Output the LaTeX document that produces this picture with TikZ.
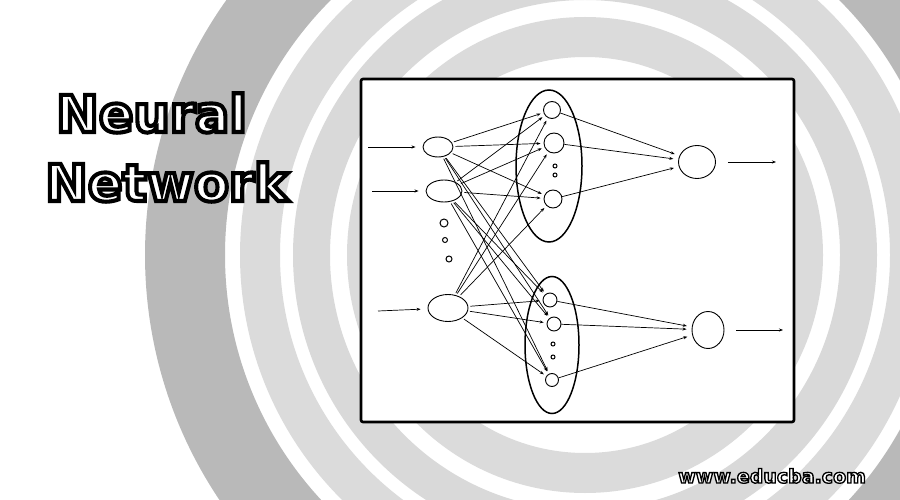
\documentclass[tikz,border=0pt]{standalone}
\usepackage{fontspec}
\newfontfamily\headfont[FakeBold=8]{DejaVu Sans}
\newfontfamily\sitefont[FakeBold=7]{DejaVu Sans}
\usetikzlibrary{shapes.geometric,arrows.meta}
\tikzstyle{neuron}=[draw=black,line width=0.9pt,ellipse,inner sep=0pt]
\tikzstyle{layer}=[draw=black,line width=1.5pt,ellipse,inner sep=0pt]
\tikzstyle{dot}=[draw=black,line width=1pt,circle,inner sep=0pt,minimum size=5pt]
\tikzstyle{link}=[line width=0.7pt,-{Stealth[length=4pt,width=3pt]}]
\tikzstyle{band}=[even odd rule,draw=none]
\tikzstyle{rim}=[anchor=base west,inner sep=0pt,text=white]

% white fill, black stroke for the emboldened fonts
\newcommand\blackrim{\special{pdf:code 0 G}}

\begin{document}
\begin{tikzpicture}[x=1pt,y=-1pt]
  \useasboundingbox (0,0) rectangle (900,500);
  % background rings
  \begin{scope}
    \clip (0,0) rectangle (900,500);
    \fill[band,gray!28] (585,255) circle (238pt) circle (198pt);
    \fill[band,gray!30] (585,255) circle (292pt) circle (255pt);
    \fill[band,gray!28] (585,255) circle (345pt) circle (305pt);
    \fill[band,gray!55] (585,255) circle (440pt) circle (360pt);
  \end{scope}

  % title and site name
  \node[rim,font=\headfont\bfseries\fontsize{51}{56}\selectfont] (neural) at (56,132) {\blackrim Neural};
  \node[rim,font=\headfont\bfseries\fontsize{51}{56}\selectfont] (network) at (45,201) {\blackrim Network};
  \node[rim,font=\sitefont\bfseries\fontsize{19}{22}\selectfont] (site) at (678,483) {\blackrim www.educba.com};

  % frame
  \draw[line width=2.6pt,fill=white,rounded corners=2pt] (361,79) rectangle (794,422);

  % input layer
  \node[neuron,minimum width=30pt,minimum height=20pt] (i1) at (438,147) {};
  \node[neuron,minimum width=36pt,minimum height=22pt] (i2) at (444,191) {};
  \node[dot,minimum size=8pt] (d1) at (444,223) {};
  \node[dot] (d2) at (445,240) {};
  \node[dot,minimum size=6pt] (d3) at (449,259) {};
  \node[neuron,minimum width=40pt,minimum height=27pt] (i3) at (448,308) {};
  \coordinate (s1) at (368,147);
  \coordinate (s2) at (372,191);
  \coordinate (s3) at (378,311);

  % hidden layers
  \node[layer,minimum width=66pt,minimum height=152pt] (l1) at (549,166) {};
  \node[neuron,circle,minimum size=17pt] (h1) at (552,110) {};
  \node[neuron,circle,minimum size=20pt] (h2) at (554,143) {};
  \node[dot,minimum size=4pt] (d4) at (555,166) {};
  \node[dot,minimum size=4pt] (d5) at (555,175) {};
  \node[neuron,circle,minimum size=18pt] (h3) at (553,199) {};

  \node[layer,minimum width=54pt,minimum height=137pt] (l2) at (552,345) {};
  \node[neuron,circle,minimum size=14pt] (g1) at (550,300) {};
  \node[neuron,circle,minimum size=14pt] (g2) at (554,324) {};
  \node[dot,minimum size=4pt] (d6) at (553,344) {};
  \node[dot,minimum size=4pt] (d7) at (553,357) {};
  \node[neuron,circle,minimum size=13pt] (g3) at (552,380) {};

  % output layer
  \node[neuron,minimum width=37pt,minimum height=33pt] (o1) at (697,162) {};
  \node[neuron,minimum width=32pt,minimum height=37pt] (o2) at (708,330) {};
  \coordinate (e1) at (776,162);
  \coordinate (e2) at (783,330);

  % connectors
  \draw[link,shorten >=7pt] (s1) -- (i1);
  \draw[link,shorten >=7pt] (s2) -- (i2);
  \draw[link,shorten >=7pt] (s3) -- (i3);
  \foreach \i in {i1,i2,i3}
    \foreach \h in {h1,h2,h3,g1,g2,g3}
      \draw[link,shorten <=2pt,shorten >=3pt] (\i) -- (\h);
  \foreach \h in {h1,h2,h3}
    \draw[link,shorten >=5pt] (\h) -- (o1);
  \foreach \h in {g1,g2,g3}
    \draw[link,shorten >=5pt] (\h) -- (o2);
  \draw[link,shorten <=12pt] (o1.east) -- (e1);
  \draw[link,shorten <=12pt] (o2.east) -- (e2);
\end{tikzpicture}
\end{document}
